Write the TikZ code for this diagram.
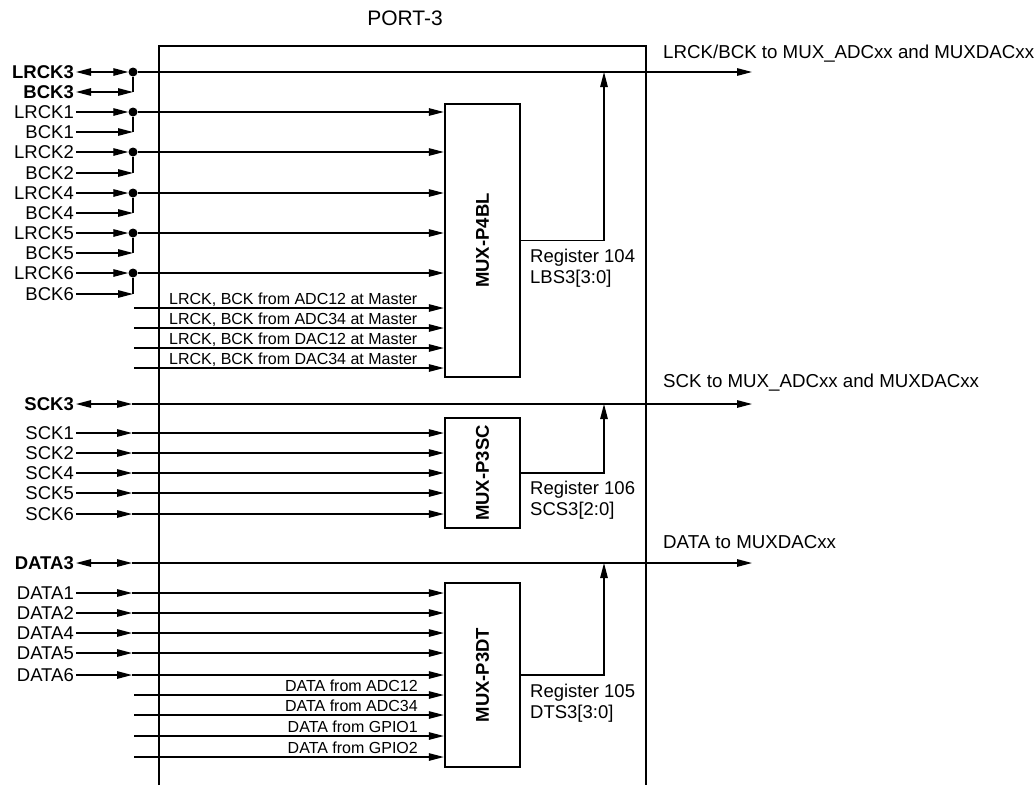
\documentclass[tikz,border=0pt]{standalone}
\usepackage{fontspec}
\setmainfont{Liberation Sans}
\usetikzlibrary{arrows.meta}

\begin{document}
\begin{tikzpicture}[
    x=1pt, y=-1pt,
    every node/.style={font=\fontsize{18.5}{21}\selectfont, inner sep=0pt},
    sig/.style={line width=1.3pt},
    arr/.style={sig, -{Triangle[length=15pt,width=7.5pt]}},
    barr/.style={sig, {Triangle[length=15pt,width=7.5pt]}-{Triangle[length=15pt,width=7.5pt]}},
    portline/.style={line width=2.8pt},
    muxbox/.style={draw, line width=2.4pt, minimum width=75pt, font=\fontsize{18.5}{21}\selectfont\bfseries},
    siglabel/.style={anchor=east, inner xsep=2pt},
    junction/.style={circle, fill, minimum size=9pt},
    srctext/.style={font=\fontsize{16}{18}\selectfont},
    regtext/.style={anchor=west, align=left, font=\fontsize{18.5}{21}\selectfont},
    outtext/.style={anchor=west, font=\fontsize{18.7}{21}\selectfont},
]
\useasboundingbox (0,0) rectangle (1035,785);

%% ── Port frame ───────────────────────────────────────────────────────────────
\coordinate (portbl) at (159,785);
\coordinate (porttr) at (646,46);
\coordinate (portbr) at (646,785);
\draw[portline] (portbl) |- (porttr) -- (portbr);
\node[font=\fontsize{21}{24}\selectfont] (porttitle) at (405,18) {PORT-3};

%% ── Multiplexers ─────────────────────────────────────────────────────────────
\node[muxbox, minimum height=273pt] (p4bl) at (482.5,240.5) {\rotatebox{90}{MUX-P4BL}};
\node[muxbox, minimum height=110pt] (p3sc) at (482.5,473) {\rotatebox{90}{MUX-P3SC}};
\node[muxbox, minimum height=184pt] (p3dt) at (482.5,675) {\rotatebox{90}{MUX-P3DT}};

\node[regtext] (reg104) at (530,268) {Register 104\\LBS3[3:0]};
\node[regtext] (reg106) at (530,500) {Register 106\\SCS3[2:0]};
\node[regtext] (reg105) at (530,703) {Register 105\\DTS3[3:0]};

%% ── Outputs ──────────────────────────────────────────────────────────────────
\coordinate (lrckout) at (752,72);
\coordinate (sckout)  at (752,404);
\coordinate (dataout) at (752,563);
\coordinate (tap1) at (604,72);
\coordinate (tap2) at (604,404);
\coordinate (tap3) at (604,563);
\node[outtext] (lrckouttext) at (663,54) {LRCK/BCK to MUX\_ADCxx and MUXDACxx};
\node[outtext] (sckouttext)  at (663,383) {SCK to MUX\_ADCxx and MUXDACxx};
\node[outtext] (dataouttext) at (663,542) {DATA to MUXDACxx};
\draw[arr] (p4bl.east) -| (tap1);
\draw[arr] (p3sc.east) -| (tap2);
\draw[arr] (p3dt.east) -| (tap3);

%% ── LRCK / BCK inputs ────────────────────────────────────────────────────────
\node[siglabel] (lrck3) at (76,72)  {\textbf{LRCK3}};
\node[siglabel] (bck3)  at (76,92)  {\textbf{BCK3}};
\node[siglabel] (lrck1) at (76,112) {LRCK1};
\node[siglabel] (bck1)  at (76,132) {BCK1};
\node[siglabel] (lrck2) at (76,152) {LRCK2};
\node[siglabel] (bck2)  at (76,173) {BCK2};
\node[siglabel] (lrck4) at (76,193) {LRCK4};
\node[siglabel] (bck4)  at (76,213) {BCK4};
\node[siglabel] (lrck5) at (76,233) {LRCK5};
\node[siglabel] (bck5)  at (76,253) {BCK5};
\node[siglabel] (lrck6) at (76,273) {LRCK6};
\node[siglabel] (bck6)  at (76,294) {BCK6};

\node[junction] (j3) at (133,72)  {};
\node[junction] (j1) at (133,112) {};
\node[junction] (j2) at (133,152) {};
\node[junction] (j4) at (133,193) {};
\node[junction] (j5) at (133,233) {};
\node[junction] (j6) at (133,273) {};
\coordinate (c3) at (133,92);
\coordinate (c1) at (133,132);
\coordinate (c2) at (133,173);
\coordinate (c4) at (133,213);
\coordinate (c5) at (133,253);
\coordinate (c6) at (133,294);

\draw[barr] (lrck3.east) -- (j3);
\draw[arr]  (j3) -- (lrckout);
\draw[barr] (bck3.east) -- (c3);
\draw[sig]  (c3) -- (j3);

\draw[arr] (lrck1.east) -- (j1);
\draw[arr] (j1) -- (j1 -| p4bl.west);
\draw[arr] (bck1.east) -- (c1);
\draw[sig] (c1) -- (j1);

\draw[arr] (lrck2.east) -- (j2);
\draw[arr] (j2) -- (j2 -| p4bl.west);
\draw[arr] (bck2.east) -- (c2);
\draw[sig] (c2) -- (j2);

\draw[arr] (lrck4.east) -- (j4);
\draw[arr] (j4) -- (j4 -| p4bl.west);
\draw[arr] (bck4.east) -- (c4);
\draw[sig] (c4) -- (j4);

\draw[arr] (lrck5.east) -- (j5);
\draw[arr] (j5) -- (j5 -| p4bl.west);
\draw[arr] (bck5.east) -- (c5);
\draw[sig] (c5) -- (j5);

\draw[arr] (lrck6.east) -- (j6);
\draw[arr] (j6) -- (j6 -| p4bl.west);
\draw[arr] (bck6.east) -- (c6);
\draw[sig] (c6) -- (j6);

%% ── Internal master clocks ───────────────────────────────────────────────────
\coordinate (m1) at (134,308);
\coordinate (m2) at (134,328);
\coordinate (m3) at (134,348);
\coordinate (m4) at (134,368);
\node[srctext, anchor=base west] (m1text) at (169,304) {LRCK, BCK from ADC12 at Master};
\node[srctext, anchor=base west] (m2text) at (169,324) {LRCK, BCK from ADC34 at Master};
\node[srctext, anchor=base west] (m3text) at (169,344) {LRCK, BCK from DAC12 at Master};
\node[srctext, anchor=base west] (m4text) at (169,364) {LRCK, BCK from DAC34 at Master};
\draw[arr] (m1) -- (m1 -| p4bl.west);
\draw[arr] (m2) -- (m2 -| p4bl.west);
\draw[arr] (m3) -- (m3 -| p4bl.west);
\draw[arr] (m4) -- (m4 -| p4bl.west);

%% ── SCK inputs ───────────────────────────────────────────────────────────────
\node[siglabel] (sck3) at (76,404) {\textbf{SCK3}};
\node[siglabel] (sck1) at (76,433) {SCK1};
\node[siglabel] (sck2) at (76,453) {SCK2};
\node[siglabel] (sck4) at (76,473) {SCK4};
\node[siglabel] (sck5) at (76,493) {SCK5};
\node[siglabel] (sck6) at (76,514) {SCK6};
\coordinate (s3) at (132,404);
\coordinate (s1) at (132,433);
\coordinate (s2) at (132,453);
\coordinate (s4) at (132,473);
\coordinate (s5) at (132,493);
\coordinate (s6) at (132,514);

\draw[barr] (sck3.east) -- (s3);
\draw[arr]  (s3) -- (sckout);
\draw[arr] (sck1.east) -- (s1);
\draw[arr] (s1) -- (s1 -| p3sc.west);
\draw[arr] (sck2.east) -- (s2);
\draw[arr] (s2) -- (s2 -| p3sc.west);
\draw[arr] (sck4.east) -- (s4);
\draw[arr] (s4) -- (s4 -| p3sc.west);
\draw[arr] (sck5.east) -- (s5);
\draw[arr] (s5) -- (s5 -| p3sc.west);
\draw[arr] (sck6.east) -- (s6);
\draw[arr] (s6) -- (s6 -| p3sc.west);

%% ── DATA inputs ──────────────────────────────────────────────────────────────
\node[siglabel] (data3) at (76,563) {\textbf{DATA3}};
\node[siglabel] (data1) at (76,593) {DATA1};
\node[siglabel] (data2) at (76,613) {DATA2};
\node[siglabel] (data4) at (76,633) {DATA4};
\node[siglabel] (data5) at (76,653) {DATA5};
\node[siglabel] (data6) at (76,675) {DATA6};
\coordinate (d3) at (132,563);
\coordinate (d1) at (132,593);
\coordinate (d2) at (132,613);
\coordinate (d4) at (132,633);
\coordinate (d5) at (132,653);
\coordinate (d6) at (132,675);

\draw[barr] (data3.east) -- (d3);
\draw[arr]  (d3) -- (dataout);
\draw[arr] (data1.east) -- (d1);
\draw[arr] (d1) -- (d1 -| p3dt.west);
\draw[arr] (data2.east) -- (d2);
\draw[arr] (d2) -- (d2 -| p3dt.west);
\draw[arr] (data4.east) -- (d4);
\draw[arr] (d4) -- (d4 -| p3dt.west);
\draw[arr] (data5.east) -- (d5);
\draw[arr] (d5) -- (d5 -| p3dt.west);
\draw[arr] (data6.east) -- (d6);
\draw[arr] (d6) -- (d6 -| p3dt.west);

%% ── Internal data sources ────────────────────────────────────────────────────
\coordinate (ds1) at (134,695);
\coordinate (ds2) at (134,715);
\coordinate (ds3) at (134,736);
\coordinate (ds4) at (134,757);
\node[srctext, anchor=base east] (ds1text) at (418,691) {DATA from ADC12};
\node[srctext, anchor=base east] (ds2text) at (418,711) {DATA from ADC34};
\node[srctext, anchor=base east] (ds3text) at (418,732) {DATA from GPIO1};
\node[srctext, anchor=base east] (ds4text) at (418,753) {DATA from GPIO2};
\draw[arr] (ds1) -- (ds1 -| p3dt.west);
\draw[arr] (ds2) -- (ds2 -| p3dt.west);
\draw[arr] (ds3) -- (ds3 -| p3dt.west);
\draw[arr] (ds4) -- (ds4 -| p3dt.west);

\end{tikzpicture}
\end{document}
